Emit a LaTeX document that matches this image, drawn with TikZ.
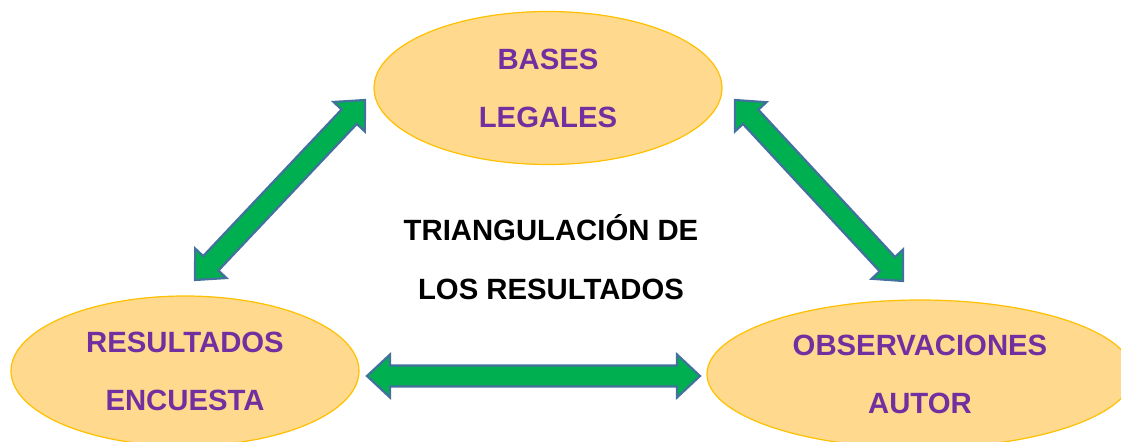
\documentclass[tikz,border=0pt]{standalone}
\usepackage{fontspec}
\setmainfont{Liberation Sans}
\usetikzlibrary{shapes.geometric,calc}
\definecolor{ellfill}{RGB}{255,217,142}
\definecolor{elldraw}{RGB}{255,192,0}
\definecolor{labpurple}{RGB}{112,48,160}
\definecolor{arrgreen}{RGB}{0,176,80}
\definecolor{arrdraw}{RGB}{65,113,156}
\tikzset{
  bubble/.style={ellipse, draw=elldraw, fill=ellfill, line width=1.2bp, inner sep=0pt,
    text=labpurple, font=\fontsize{29.3bp}{58bp}\selectfont\bfseries, align=center},
  title/.style={text=black, font=\fontsize{29.3bp}{59bp}\selectfont\bfseries, align=center, inner sep=0pt},
  fatarrow/.style={draw=arrdraw, fill=arrgreen, line width=2.2bp, line join=miter}
}
\newcommand\fatarrow[2]{%
  \path[fatarrow] (#1) -- ($(#1)!23bp!(#2)!21.5bp!90:(#2)$) -- ($(#1)!23bp!(#2)!10.5bp!90:(#2)$)
   -- ($(#2)!23bp!(#1)!10.5bp!-90:(#1)$) -- ($(#2)!23bp!(#1)!21.5bp!-90:(#1)$) -- (#2)
   -- ($(#2)!23bp!(#1)!21.5bp!90:(#1)$) -- ($(#2)!23bp!(#1)!10.5bp!90:(#1)$)
   -- ($(#1)!23bp!(#2)!10.5bp!-90:(#2)$) -- ($(#1)!23bp!(#2)!21.5bp!-90:(#2)$) -- cycle;}
\begin{document}
\begin{tikzpicture}[x=1bp,y=-1bp]
\useasboundingbox (0,0) rectangle (1121,442);
\clip (0,0) rectangle (1121,442);
\node[bubble, minimum width=348bp, minimum height=153bp] (bases) at (548,88) {BASES\\LEGALES};
\node[bubble, minimum width=348bp, minimum height=150bp] (encuesta) at (185,371) {RESULTADOS\\ENCUESTA};
\node[bubble, minimum width=426bp, minimum height=148bp] (autor) at (920,374) {OBSERVACIONES\\AUTOR};
\node[title] (tri) at (551,257) {TRIANGULACIÓN DE\\LOS RESULTADOS};
\coordinate (a1) at (365,100);
\coordinate (a2) at (195,280);
\coordinate (b1) at (735,100);
\coordinate (b2) at (903,281);
\coordinate (c1) at (367,376);
\coordinate (c2) at (700,376);
\fatarrow{a1}{a2}
\fatarrow{b1}{b2}
\fatarrow{c1}{c2}
\end{tikzpicture}
\end{document}
